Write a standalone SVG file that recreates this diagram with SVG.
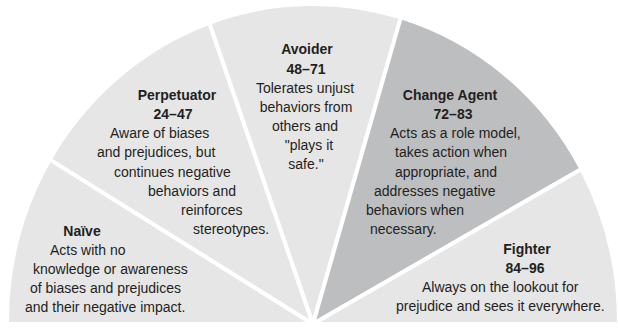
<svg xmlns="http://www.w3.org/2000/svg" width="618" height="328" viewBox="0 0 618 328">
<style>
.w{fill:#e6e6e7;stroke:#fff;stroke-width:4;stroke-linejoin:round}
.d{fill:#bdbec0}
text{font-family:"Liberation Sans",Arial,sans-serif;font-size:14px;fill:#231f20}
.b{font-weight:bold}
.c{text-anchor:middle}
</style>
<rect width="618" height="328" fill="#fff"/>
<g id="naive">
<path class="w" d="M313,324 L7,324 A306,319 0 0 1 49.7,159.4 Z"/>
<text class="b c" x="82" y="236">Naïve</text>
<text x="50" y="255">Acts with no</text>
<text x="33" y="274">knowledge or awareness</text>
<text x="30" y="293">of biases and prejudices</text>
<text x="25" y="312">and their negative impact.</text>
</g>
<g id="perpetuator">
<path class="w" d="M313,324 L49.7,159.4 A306,319 0 0 1 209.3,22.9 Z"/>
<text class="b c" x="177" y="100">Perpetuator</text>
<text class="b c" x="173" y="119">24–47</text>
<text x="110" y="138">Aware of biases</text>
<text x="97" y="157">and prejudices, but</text>
<text x="114" y="177">continues negative</text>
<text x="148" y="196">behaviors and</text>
<text x="181" y="215">reinforces</text>
<text x="193" y="234">stereotypes.</text>
</g>
<g id="avoider">
<path class="w" d="M313,324 L209.3,22.9 A306,319 0 0 1 400.9,17.3 Z"/>
<text class="b c" x="307" y="54">Avoider</text>
<text class="b c" x="306" y="74">48–71</text>
<text class="c" x="305" y="93">Tolerates unjust</text>
<text class="c" x="306" y="112">behaviors from</text>
<text class="c" x="305" y="131">others and</text>
<text class="c" x="309" y="150">"plays it</text>
<text class="c" x="306" y="169">safe."</text>
</g>
<g id="change-agent">
<path class="w d" d="M313,324 L400.9,17.3 A306,319 0 0 1 581.5,169 Z"/>
<text class="b c" x="450" y="100">Change Agent</text>
<text class="b c" x="453" y="119">72–83</text>
<text x="390" y="138">Acts as a role model,</text>
<text x="395" y="157">takes action when</text>
<text x="395" y="177">appropriate, and</text>
<text x="374" y="196">addresses negative</text>
<text x="366" y="215">behaviors when</text>
<text x="370" y="234">necessary.</text>
</g>
<g id="fighter">
<path class="w" d="M313,324 L581.5,169 A306,319 0 0 1 619,324 Z"/>
<text class="b c" x="527" y="254">Fighter</text>
<text class="b c" x="525" y="273">84–96</text>
<text x="422" y="292">Always on the lookout for</text>
<text x="396" y="311">prejudice and sees it everywhere.</text>
</g>
<g id="connectors"></g>
</svg>
